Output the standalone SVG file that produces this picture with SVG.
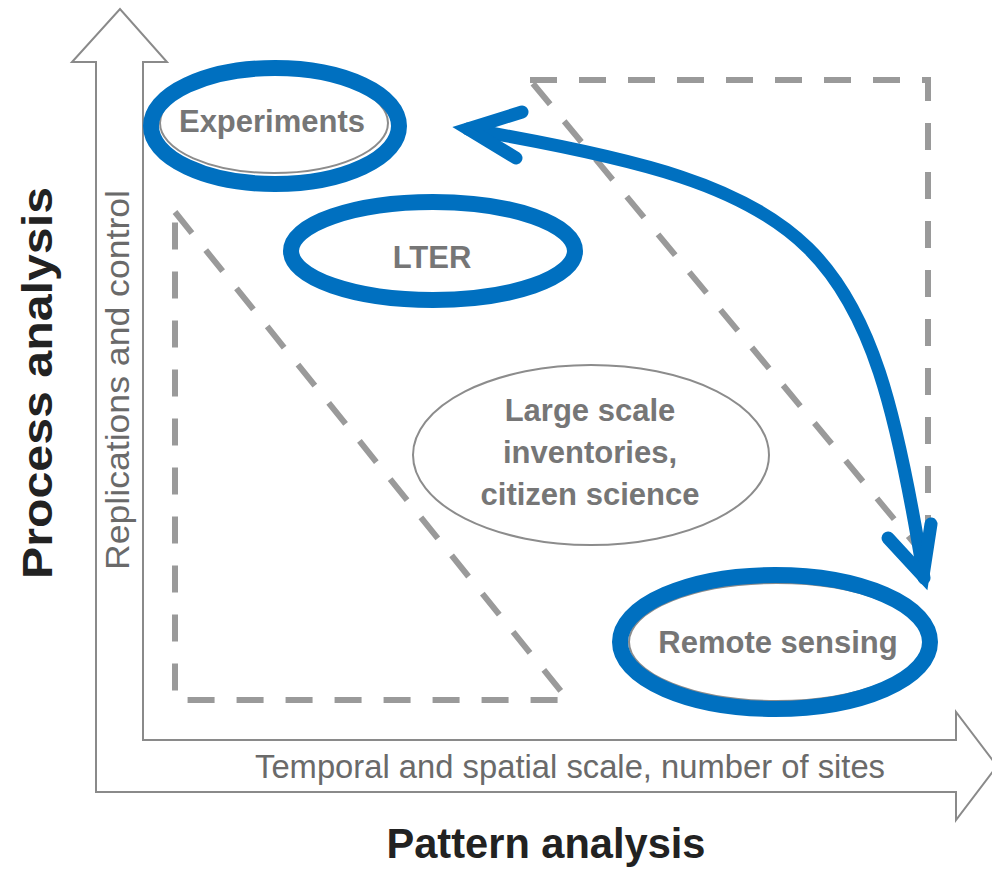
<svg xmlns="http://www.w3.org/2000/svg" width="992" height="869" viewBox="0 0 992 869">
  <style>
    .axis { fill: #ffffff; stroke: #8a8a8a; stroke-width: 2; stroke-linejoin: miter; }
    .zone { fill: none; stroke: #9a9a9a; stroke-width: 6; stroke-dasharray: 27 22; }
    .oval { fill: #ffffff; stroke: #8c8c8c; stroke-width: 2; }
    .ring { fill: none; stroke: #0070c0; stroke-width: 16; }
    .link { fill: none; stroke: #0070c0; stroke-width: 13; stroke-linecap: round; stroke-linejoin: miter; }
    .label { font-family: "Liberation Sans", Arial, sans-serif; font-weight: bold; fill: #767676; font-size: 31px; text-anchor: middle; }
    .axislabel { font-family: "Liberation Sans", Arial, sans-serif; fill: #6a6a6a; font-size: 33px; }
    .title { font-family: "Liberation Sans", Arial, sans-serif; font-weight: bold; fill: #222222; font-size: 42px; text-anchor: middle; }
  </style>

  <!-- hollow L-shaped axis arrow -->
  <g id="axes">
    <path class="axis" d="M96,792 L96,62 L72,62 L120,9 L167,62 L143,62 L143,740 L956,740 L956,712 L997,766 L956,820 L956,792 Z"/>
    <text class="axislabel" x="0" y="0" transform="translate(129,570) rotate(-90)" textLength="380" lengthAdjust="spacingAndGlyphs">Replications and control</text>
    <text class="axislabel" x="255" y="778" textLength="630" lengthAdjust="spacingAndGlyphs">Temporal and spatial scale, number of sites</text>
    <text class="title" x="0" y="0" transform="translate(52,383) rotate(-90)" textLength="392" lengthAdjust="spacingAndGlyphs">Process analysis</text>
    <text class="title" x="546" y="858" textLength="319" lengthAdjust="spacingAndGlyphs">Pattern analysis</text>
  </g>

  <!-- dashed scope regions -->
  <g id="zones">
    <path class="zone" d="M530,80 L928,80 L928,560 Z"/>
    <path class="zone" d="M175,212 L568,700 L175,700 Z"/>
  </g>

  <g id="experiments">
    <ellipse class="oval" cx="274" cy="123" rx="114" ry="50"/>
    <text class="label" x="272" y="132">Experiments</text>
    <ellipse class="ring" cx="275" cy="126" rx="124" ry="58"/>
  </g>

  <g id="lter">
    <text class="label" x="432" y="268">LTER</text>
    <ellipse class="ring" cx="433" cy="251" rx="142" ry="49"/>
  </g>

  <g id="inventories">
    <ellipse class="oval" cx="591" cy="455" rx="178" ry="90"/>
    <text class="label" x="590" y="421">Large scale</text>
    <text class="label" x="590" y="463">inventories,</text>
    <text class="label" x="590" y="505">citizen science</text>
  </g>

  <g id="remote-sensing">
    <ellipse class="oval" cx="777" cy="642" rx="148" ry="59"/>
    <text class="label" x="778" y="653">Remote sensing</text>
    <ellipse class="ring" cx="775" cy="642" rx="155" ry="67"/>
  </g>

  <!-- two-way connector between experiments and remote sensing -->
  <g id="connectors">
    <path class="link" d="M468,129 C822,190 869,236 924,578"/>
    <polyline class="link" points="522,112 468,129 516,158"/>
    <polyline class="link" points="888,538 923,576 931,524"/>
  </g>
</svg>
